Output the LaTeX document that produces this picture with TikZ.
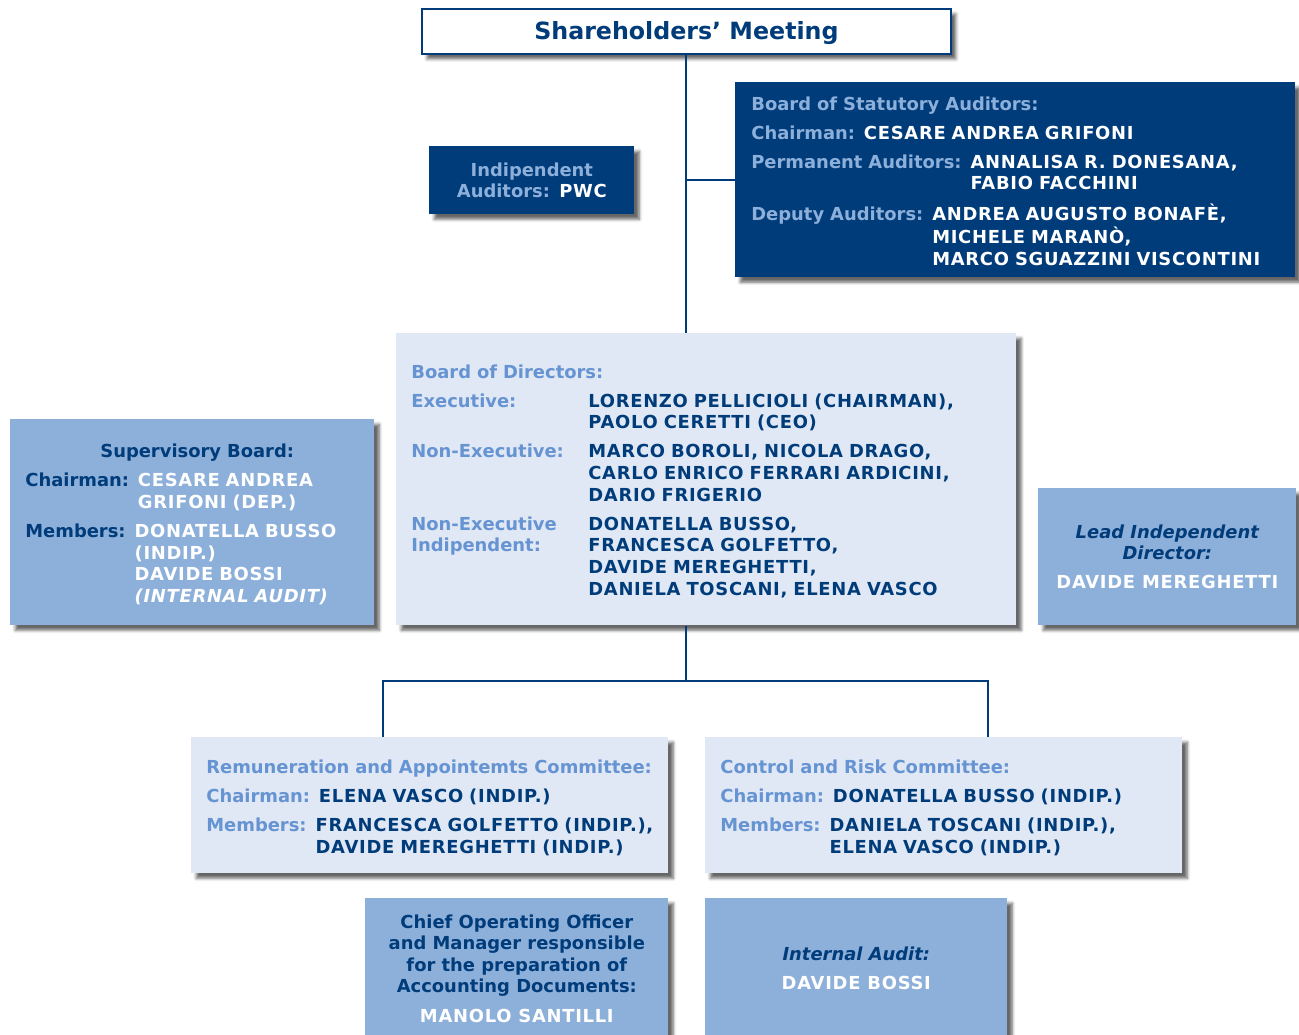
\documentclass[tikz,border=0pt]{standalone}
\usepackage{fontspec}
\setmainfont{DejaVu Sans}
\newfontfamily\tagfont{DejaVu Sans}
\newfontfamily\namefont{DejaVu Sans}[LetterSpace=4]
\usepackage{xcolor}
\usepackage{tikz}
\usetikzlibrary{shadows.blur}
\definecolor{navy}{HTML}{003B7A}
\definecolor{midblue}{HTML}{8DB0DB}
\definecolor{paleblue}{HTML}{DFE8F4}
\definecolor{labelblue}{HTML}{6693D2}
\newlength{\pxu}
\setlength{\pxu}{0.02cm}
\newcommand{\lab}[1]{{\tagfont\color{lbl}#1}}
\newcommand{\names}[1]{\begin{tabular}[t]{@{}l@{}}#1\end{tabular}}
\newcommand{\block}[1]{\begin{tabular}[t]{@{}l@{}}\noalign{\vskip 7\pxu}#1\end{tabular}}
\newcommand{\dirtag}[1]{\makebox[177\pxu][l]{\lab{#1}}}
\newcommand{\gap}{\\\noalign{\vskip 7.5\pxu}}

\begin{document}
\begin{tikzpicture}[x=0.02cm, y=-0.02cm,
    every node/.style={anchor=north west, inner ysep=0pt, font=\namefont\bfseries\fontsize{10.2}{12.3}\selectfont},
    shade/.style={blur shadow={shadow xshift=0.1cm, shadow yshift=-0.1cm, shadow blur radius=0.06cm, shadow opacity=60}},
    dark/.style={shade, fill=navy, text=white, execute at begin node={\colorlet{lbl}{midblue}}},
    mid/.style={shade, fill=midblue, text=white, execute at begin node={\colorlet{lbl}{navy}}},
    pale/.style={shade, fill=paleblue, text=navy, execute at begin node={\colorlet{lbl}{labelblue}}},
    link/.style={draw=navy, line width=0.04cm}]
    \useasboundingbox (0,0) rectangle (1299,1035);

    \node[shade, draw=navy, line width=0.04cm, fill=white, text=navy, minimum width=10.58cm, minimum height=0.9cm,
          font=\tagfont\bfseries\fontsize{13.5}{16}\selectfont] (sh) at (421,8)
        {\raisebox{-2\pxu}[\height][\depth]{Shareholders’ Meeting}};
    \node[dark, align=center, minimum width=4.1cm, minimum height=1.36cm] (ia) at (429,146)
        {\lab{Indipendent}\\\lab{Auditors:} PWC};
    \node[dark, text width=10.56cm, inner xsep=0.32cm, minimum height=3.9cm, align=left] (sa) at (735,82) {\block{
        \lab{Board of Statutory Auditors:}\gap
        \lab{Chairman:} CESARE ANDREA GRIFONI\gap
        \lab{Permanent Auditors:} \names{ANNALISA R. DONESANA,\\FABIO FACCHINI}\gap
        \lab{Deputy Auditors:} \names{ANDREA AUGUSTO BONAFÈ,\\MICHELE MARANÒ,\\MARCO SGUAZZINI VISCONTINI}}};

    \node[pale, text width=11.8cm, inner xsep=0.3cm, minimum height=5.84cm, align=left] (bod) at (396,333) {%
        \begin{tabular}[t]{@{}l@{}l@{}}
        \noalign{\vskip 6\pxu}
        \multicolumn{2}{@{}l@{}}{\lab{Board of Directors:}}\gap
        \dirtag{Executive:} & LORENZO PELLICIOLI (CHAIRMAN),\\
                            & PAOLO CERETTI (CEO)\gap
        \dirtag{Non-Executive:} & MARCO BOROLI, NICOLA DRAGO,\\
                                & CARLO ENRICO FERRARI ARDICINI,\\
                                & DARIO FRIGERIO\gap
        \dirtag{Non-Executive} & DONATELLA BUSSO,\\
        \dirtag{Indipendent:}  & FRANCESCA GOLFETTO,\\
                               & DAVIDE MEREGHETTI,\\
                               & DANIELA TOSCANI, ELENA VASCO
        \end{tabular}};
    \node[mid, text width=6.68cm, inner xsep=0.3cm, minimum height=4.12cm, align=left] (sb) at (10,419) {\block{
        \hspace*{75\pxu}\lab{Supervisory Board:}\gap
        \lab{Chairman:} \names{CESARE ANDREA\\GRIFONI (DEP.)}\gap
        \lab{Members:} \names{DONATELLA BUSSO\\(INDIP.)\\DAVIDE BOSSI\\\textit{(INTERNAL AUDIT)}}}};
    \node[mid, align=center, minimum width=5.16cm, minimum height=2.74cm] (lid) at (1038,488)
        {\lab{\itshape Lead Independent}\\\lab{\itshape Director:}\\[7.5\pxu]DAVIDE MEREGHETTI};

    \node[pale, text width=8.94cm, inner xsep=0.3cm, minimum height=2.72cm, align=left] (rac) at (191,737) {\block{
        \lab{Remuneration and Appointemts Committee:}\gap
        \lab{Chairman:} ELENA VASCO (INDIP.)\gap
        \lab{Members:} \names{FRANCESCA GOLFETTO (INDIP.),\\DAVIDE MEREGHETTI (INDIP.)}}};
    \node[pale, text width=8.94cm, inner xsep=0.3cm, minimum height=2.72cm, align=left] (crc) at (705,737) {\block{
        \lab{Control and Risk Committee:}\gap
        \lab{Chairman:} DONATELLA BUSSO (INDIP.)\gap
        \lab{Members:} \names{DANIELA TOSCANI (INDIP.),\\ELENA VASCO (INDIP.)}}};
    \node[mid, align=center, minimum width=6.06cm, minimum height=2.8cm] (coo) at (365,898)
        {\lab{Chief Operating Officer}\\\lab{and Manager responsible}\\\lab{for the preparation of}\\
         \lab{Accounting Documents:}\\[7.5\pxu]MANOLO SANTILLI};
    \node[mid, align=center, minimum width=6.04cm, minimum height=2.8cm] (iau) at (705,898)
        {\lab{\itshape Internal Audit:}\\[7.5\pxu]DAVIDE BOSSI};

    \draw[link] (sh.south) -- (sh.south |- bod.north);
    \draw[link] (sh.south |- sa.west) -- (sa.west);
    \coordinate (split) at (sh.south |- 0,681);
    \draw[link] (split |- bod.south) -- (split);
    \foreach \cmt/\xx in {rac/383, crc/988}{
        \coordinate (\cmt-drop) at (\xx,681);
        \draw[link] (split) -- (\cmt-drop) -- (\cmt-drop |- \cmt.north);
    }
\end{tikzpicture}
\end{document}
